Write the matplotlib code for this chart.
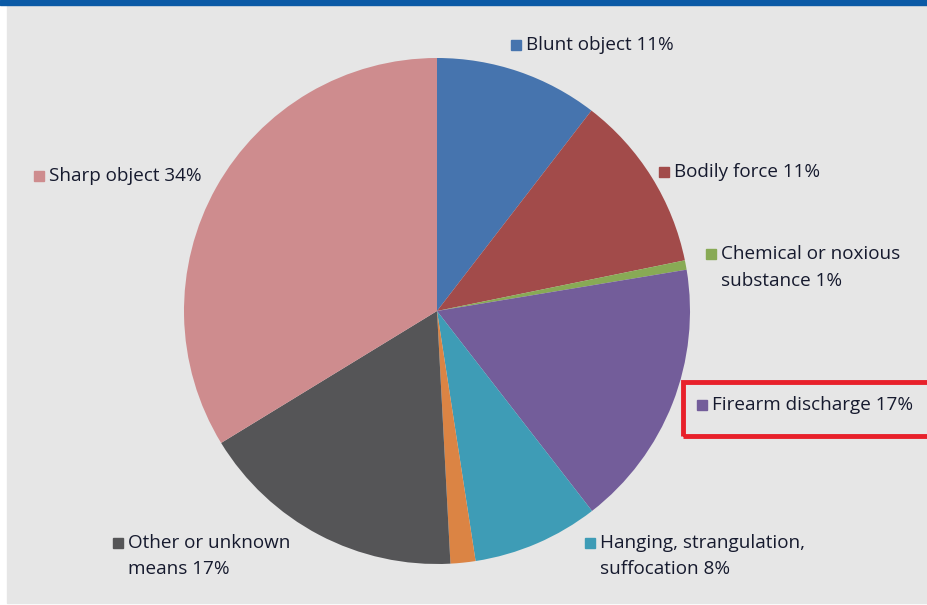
import matplotlib.pyplot as plt
from matplotlib.patches import Rectangle

# slices, clockwise from 12 o'clock
categories = ["Blunt object", "Bodily force", "Chemical or noxious substance",
              "Firearm discharge", "Hanging, strangulation, suffocation",
              "Unlabelled", "Other or unknown means", "Sharp object"]
shares = [10.5, 11.4, 0.6, 17.2, 8.1, 1.6, 17.2, 33.9]
colors = ["#4674AE", "#A24B4A", "#88AA55", "#735D9A", "#3E9CB6",
          "#DB8444", "#555557", "#CE8C8E"]

# label text, pixel position of the marker square (x, y from top), slice index
labels = [
    ("Blunt object 11%", 516, 45, 0),
    ("Bodily force 11%", 664, 172, 1),
    ("Chemical or noxious\nsubstance 1%", 711, 254, 2),
    ("Firearm discharge 17%", 702, 405, 3),
    ("Hanging, strangulation,\nsuffocation 8%", 590, 543, 4),
    ("Other or unknown\nmeans 17%", 118, 543, 6),
    ("Sharp object 34%", 39, 176, 7),
]

W, H = 928, 605
plt.rcParams['font.family'] = ['Open Sans', 'DejaVu Sans']

fig = plt.figure(figsize=(W / 100, H / 100), dpi=100)
fig.patch.set_facecolor("white")
ax = fig.add_axes([0, 0, 1, 1])

# background panel and top bar
ax.add_patch(Rectangle((7, 2), W - 7, H - 2, color="#E6E6E6", zorder=0))
ax.add_patch(Rectangle((0, H - 5), W, 5, color="#0B5AA6", zorder=1))

ax.pie(shares, colors=colors, startangle=90, counterclock=False,
       center=(437, H - 311), radius=253, frame=True,
       wedgeprops=dict(linewidth=0))
ax.set_xlim(0, W)
ax.set_ylim(0, H)
ax.set_aspect("equal")
ax.axis("off")

for text, x, y, idx in labels:
    ax.plot(x, H - y, marker="s", markersize=7, color=colors[idx],
            linestyle="none", zorder=5)
    for i, line in enumerate(text.split("\n")):
        ax.text(x + 10, H - y - i * 26.5, line, fontsize=13.6,
                color="#161A2E", ha="left", va="center", zorder=5)

# highlight box around the firearm label
ax.add_patch(Rectangle((683, H - 436), 260, 54, fill=False,
                       edgecolor="#E8202A", linewidth=3.5, zorder=6,
                       clip_on=False))

fig.savefig("out.png", dpi=100, facecolor=fig.get_facecolor())
